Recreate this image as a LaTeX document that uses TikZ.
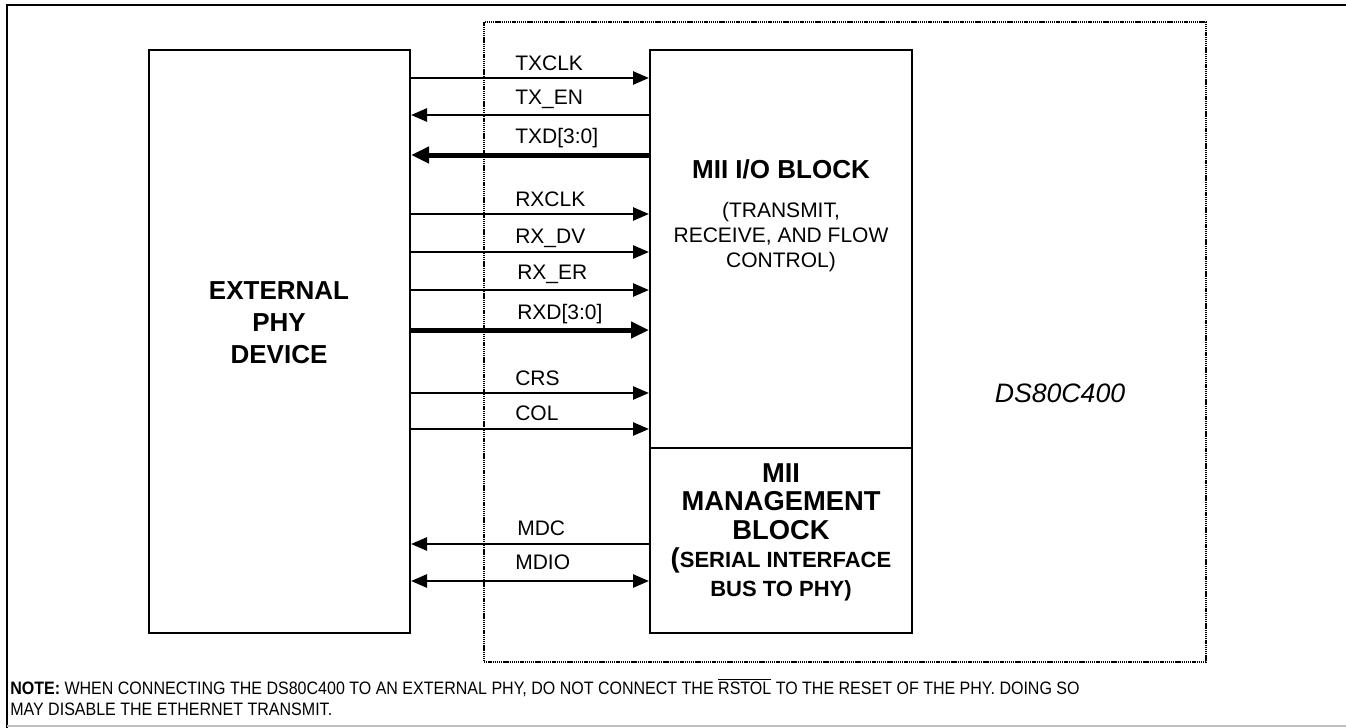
\documentclass[tikz,border=0pt]{standalone}
\usepackage{fontspec}
\setmainfont{Liberation Sans}
\newfontfamily\notefont[FakeStretch=0.89]{Liberation Sans}
\usetikzlibrary{arrows.meta}
\begin{document}
\begin{tikzpicture}[x=0.75pt,y=-0.75pt,
  blk/.style={draw, line width=1.5pt, inner sep=0pt},
  sig/.style={line width=1.9pt, >={Triangle[length=12pt,width=9.75pt]}},
  bus/.style={line width=3.75pt, >={Triangle[length=13.5pt,width=12pt]}},
  lbl/.style={anchor=base west, inner sep=0pt, font=\fontsize{15.75pt}{18pt}\selectfont},
  notetxt/.style={anchor=base west, inner sep=0pt, font=\notefont\fontsize{13.5pt}{15pt}\selectfont}]
\useasboundingbox (0,0) rectangle (1346,728);
% outer frame
\draw[line width=1.5pt] (7,728) -- (7,5) -- (1346,5);
\draw[line width=1.5pt, black!25] (7,726) -- (1346,726);
% DS80C400 dotted region
\node[draw, line width=1.2pt, dash pattern=on 1pt off 0.6pt, minimum width=541.5pt, minimum height=480pt, inner sep=0pt] (ds) at (845,342) {};
% blocks
\node[blk, minimum width=195.75pt, minimum height=437.25pt] (phy) at (279.5,341.5) {};
\node[blk, minimum width=196.5pt, minimum height=298.5pt] (mio) at (781,249) {};
\node[blk, minimum width=196.5pt, minimum height=138.75pt] (mgm) at (781,540.5) {};
% block texts
\node[align=center, inner sep=0pt, font=\bfseries\fontsize{19.5pt}{24pt}\selectfont] (phytxt) at (279,323) {EXTERNAL\\PHY\\DEVICE};
\node[inner sep=0pt, font=\bfseries\fontsize{19.5pt}{24pt}\selectfont] (miotitle) at (781,169) {MII I/O BLOCK};
\node[align=center, inner sep=0pt, font=\fontsize{15.75pt}{18.75pt}\selectfont] (miosub) at (781,237) {(TRANSMIT,\\RECEIVE, AND FLOW\\CONTROL)};
\node[align=center, inner sep=0pt, font=\bfseries\fontsize{20.5pt}{21.4pt}\selectfont] (mgmtxt) at (781,532) {MII\\MANAGEMENT\\BLOCK\\({\fontsize{16.5pt}{21.4pt}\selectfont SERIAL INTERFACE}\\{\fontsize{16.5pt}{21.4pt}\selectfont BUS TO PHY)}};
\node[inner sep=0pt, font=\itshape\fontsize{20pt}{24pt}\selectfont] (dstxt) at (1060,393) {DS80C400};
% rows
\coordinate (r1) at (0,78);
\coordinate (r2) at (0,115);
\coordinate (r3) at (0,155);
\coordinate (r4) at (0,214);
\coordinate (r5) at (0,252);
\coordinate (r6) at (0,290);
\coordinate (r7) at (0,330);
\coordinate (r8) at (0,393);
\coordinate (r9) at (0,429);
\coordinate (r10) at (0,544);
\coordinate (r11) at (0,581);
% connectors
\draw[sig,->] (phy.east |- r1) -- (mio.west |- r1);
\draw[sig,->] (mio.west |- r2) -- (phy.east |- r2);
\draw[bus,->] (mio.west |- r3) -- (phy.east |- r3);
\draw[sig,->] (phy.east |- r4) -- (mio.west |- r4);
\draw[sig,->] (phy.east |- r5) -- (mio.west |- r5);
\draw[sig,->] (phy.east |- r6) -- (mio.west |- r6);
\draw[bus,->] (phy.east |- r7) -- (mio.west |- r7);
\draw[sig,->] (phy.east |- r8) -- (mio.west |- r8);
\draw[sig,->] (phy.east |- r9) -- (mio.west |- r9);
\draw[sig,->] (mgm.west |- r10) -- (phy.east |- r10);
\draw[sig,<->] (phy.east |- r11) -- (mgm.west |- r11);
% labels
\node[lbl] (l1) at (515,70.5) {TXCLK};
\node[lbl] (l2) at (515,104.5) {TX\_EN};
\node[lbl] (l3) at (515,143) {TXD[3:0]};
\node[lbl] (l4) at (515,206.5) {RXCLK};
\node[lbl] (l5) at (515,243) {RX\_DV};
\node[lbl] (l6) at (517,279.5) {RX\_ER};
\node[lbl] (l7) at (517,319) {RXD[3:0]};
\node[lbl] (l8) at (515,385.5) {CRS};
\node[lbl] (l9) at (515,420) {COL};
\node[lbl] (l10) at (517,535.5) {MDC};
\node[lbl] (l11) at (515,569.5) {MDIO};
% note
\node[notetxt] (note1) at (10,694) {\textbf{NOTE:} WHEN CONNECTING THE DS80C400 TO AN EXTERNAL PHY, DO NOT CONNECT THE $\overline{\hbox{RSTOL}}$ TO THE RESET OF THE PHY. DOING SO};
\node[notetxt] (note2) at (10,715) {MAY DISABLE THE ETHERNET TRANSMIT.};
\end{tikzpicture}
\end{document}
